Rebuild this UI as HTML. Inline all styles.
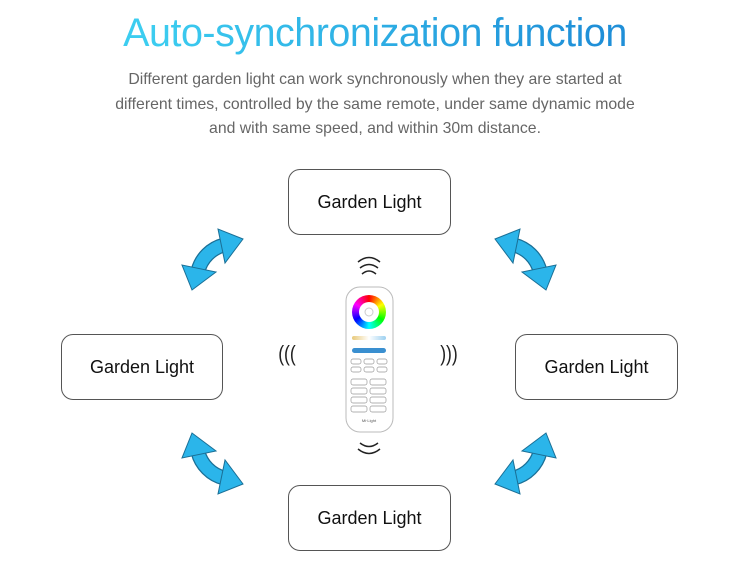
<!DOCTYPE html>
<html><head><meta charset="utf-8"><style>
body{margin:0;width:750px;height:570px;background:#fff;position:relative;overflow:hidden;font-family:"Liberation Sans",sans-serif}
.t{position:absolute;left:0;width:750px;text-align:center;top:11px;font-size:39.5px;letter-spacing:-0.5px;
background:linear-gradient(90deg,#3ccdf0 20%,#1f8fd8 80%);-webkit-background-clip:text;background-clip:text;color:transparent}
.p{position:absolute;left:0;width:750px;text-align:center;top:68px;font-size:15.8px;line-height:24.5px;color:#666}
.b{position:absolute;width:160px;height:64px;border:1px solid #555;border-radius:12px;box-sizing:border-box;display:flex;align-items:center;justify-content:center;font-size:18px;color:#111}
.w{position:absolute;font-size:22px;color:#222;transform:scaleX(0.8)}
</style></head><body>
<div class="t">Auto-synchronization function</div>
<div class="p">Different garden light can work synchronously when they are started at<br>different times, controlled by the same remote, under same dynamic mode<br>and with same speed, and within 30m distance.</div>
<div class="b" style="left:288px;top:169px;width:163px;height:66px">Garden Light</div>
<div class="b" style="left:61px;top:334px;width:162px;height:66px">Garden Light</div>
<div class="b" style="left:515px;top:334px;width:163px;height:66px">Garden Light</div>
<div class="b" style="left:288px;top:485px;width:163px;height:66px">Garden Light</div>
<svg width="750" height="570" style="position:absolute;left:0;top:0">
<defs>
<g id="ar">
<path d="M16,42 A36,36 0 0 1 42,16" fill="none" stroke="#1a6f96" stroke-width="15"/>
<path d="M16,42 A36,36 0 0 1 42,16" fill="none" stroke="#2bb5ea" stroke-width="12.5"/>
<polygon points="61,10 36,0 43,34" fill="#2bb5ea" stroke="#1a6f96" stroke-width="1"/>
<polygon points="10,61 0,36 34,43" fill="#2bb5ea" stroke="#1a6f96" stroke-width="1"/>
</g>
<linearGradient id="cct" x1="0" x2="1"><stop offset="0" stop-color="#e8c97a"/><stop offset="0.5" stop-color="#fff"/><stop offset="1" stop-color="#9cd0f0"/></linearGradient>
</defs>
<use href="#ar" transform="translate(182,229)"/>
<use href="#ar" transform="translate(556,229) scale(-1,1)"/>
<use href="#ar" transform="translate(182,494) scale(1,-1)"/>
<use href="#ar" transform="translate(556,494) scale(-1,-1)"/>
<rect x="346" y="287" width="47" height="145" rx="14" fill="#fff" stroke="#bbb"/>
<foreignObject x="352" y="295" width="34" height="34"><div xmlns="http://www.w3.org/1999/xhtml" style="width:34px;height:34px;border-radius:50%;background:conic-gradient(red,#ff0,#0f0,#0ff,#00f,#f0f,red)"></div></foreignObject>
<circle cx="369" cy="312" r="10" fill="#fff"/>
<circle cx="369" cy="312" r="4" fill="none" stroke="#ccc"/>
<rect x="352" y="336" width="34" height="4" rx="2" fill="url(#cct)"/>
<rect x="352" y="348" width="34" height="5" rx="2.5" fill="#3a8fd0"/>
<g fill="none" stroke="#999" stroke-width="0.7">
<rect x="351" y="359" width="10" height="5" rx="2"/><rect x="364" y="359" width="10" height="5" rx="2"/><rect x="377" y="359" width="10" height="5" rx="2"/>
<rect x="351" y="367" width="10" height="5" rx="2"/><rect x="364" y="367" width="10" height="5" rx="2"/><rect x="377" y="367" width="10" height="5" rx="2"/>
<rect x="351" y="379" width="16" height="6" rx="2"/><rect x="370" y="379" width="16" height="6" rx="2"/>
<rect x="351" y="388" width="16" height="6" rx="2"/><rect x="370" y="388" width="16" height="6" rx="2"/>
<rect x="351" y="397" width="16" height="6" rx="2"/><rect x="370" y="397" width="16" height="6" rx="2"/>
<rect x="351" y="406" width="16" height="6" rx="2"/><rect x="370" y="406" width="16" height="6" rx="2"/>
</g>
<text x="369" y="422" font-size="4" text-anchor="middle" fill="#555">Mi·Light</text>
<g fill="none" stroke="#222" stroke-width="1.5">
<path d="M358,262 Q369,253 380,262"/><path d="M360,268 Q369,261 378,268"/><path d="M362,274 Q369,268 376,274"/>
<path d="M358,449 Q369,458 380,449"/><path d="M360,443 Q369,450 378,443"/><path d="M362,437 Q369,443 376,437" stroke-width="0"/>
</g>
</svg>
<div class="w" style="left:276px;top:341px">(((</div>
<div class="w" style="left:438px;top:341px">)))</div>
</body></html>
